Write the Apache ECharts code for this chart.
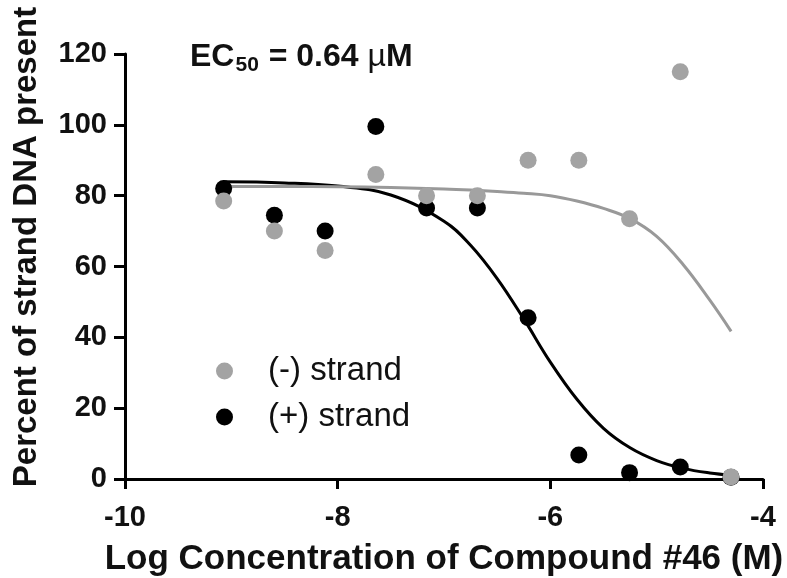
<!DOCTYPE html>
<html>
<head>
<meta charset="utf-8">
<script src="https://cdn.jsdelivr.net/npm/echarts@6/dist/echarts.min.js"></script>
<style>
  html, body { margin: 0; padding: 0; background: #fff; }
  #chart { width: 787px; height: 578px; }
</style>
</head>
<body>
<div id="chart"></div>
<script>
  // log10 of molar concentration, 3-fold dilutions from 50 uM
  var logConc = [-9.072, -8.595, -8.118, -7.641, -7.164, -6.686, -6.209, -5.732, -5.255, -4.778, -4.301]
  var minusStrand = [78.5, 70, 64.5, 86, 80, 80, 90, 90, 73.5, 115, 0.6]
  var plusStrand = [82, 74.5, 70, 99.5, 76.5, 76.5, 45.5, 6.8, 1.8, 3.4, 0.5]

  // fitted curves
  var curveX = [-9.08, -8.5, -8.0, -7.5, -7.0, -6.75, -6.5, -6.25, -6.0, -5.75, -5.5, -5.25, -5.0, -4.75, -4.5, -4.3]
  var plusFit = [83.9, 83.6, 82.7, 80.2, 72.8, 66.0, 56.6, 45.2, 33.0, 22.5, 14.3, 8.8, 5.2, 3.0, 1.7, 1.1]
  var minusFit = [82.6, 82.6, 82.5, 82.3, 81.9, 81.6, 81.2, 80.7, 80.0, 78.5, 76.4, 73.5, 68.5, 60.5, 50.5, 41.7]

  var xTicks = [-10, -8, -6, -4]
  var yTicks = [0, 20, 40, 60, 80, 100, 120]

  var FONT = '"Liberation Sans", Arial, sans-serif'
  var GRAY = '#a3a3a3'

  function pairs(xs, ys) {
    return xs.map(function (x, i) { return [x, ys[i]] })
  }

  var chart = echarts.init(document.getElementById('chart'))
  chart.setOption({
    animation: false,
    backgroundColor: '#fff',
    textStyle: { fontFamily: FONT },
    grid: {
      left: 125,
      right: 24,
      top: 54,
      bottom: 99,
      containLabel: false,
      outerBoundsMode: 'none'
    },
    legend: {
      orient: 'vertical',
      left: 211,
      top: 347,
      data: ['(-) strand', '(+) strand'],
      icon: 'circle',
      itemWidth: 17,
      itemHeight: 17,
      itemGap: 8,
      selectedMode: false,
      textStyle: {
        fontFamily: FONT,
        fontSize: 33,
        lineHeight: 38,
        color: '#111',
        padding: [0, 0, 0, 30]
      }
    },
    xAxis: {
      type: 'value',
      min: xTicks[0],
      max: xTicks[xTicks.length - 1],
      interval: 2,
      name: 'Log Concentration of Compound #46 (M)',
      nameLocation: 'middle',
      nameGap: 63,
      nameTextStyle: { fontFamily: FONT, fontSize: 35, fontWeight: 'bold', color: '#111' },
      axisLine: { show: true, onZero: false, lineStyle: { color: '#000', width: 3 } },
      axisTick: { show: true, length: 10, lineStyle: { color: '#000', width: 3 } },
      axisLabel: { margin: 24, fontSize: 29, fontWeight: 'bold', color: '#111', fontFamily: FONT },
      splitLine: { show: false }
    },
    yAxis: {
      type: 'value',
      min: yTicks[0],
      max: yTicks[yTicks.length - 1],
      interval: 20,
      axisLine: { show: true, lineStyle: { color: '#000', width: 3 } },
      axisTick: { show: true, length: 11, lineStyle: { color: '#000', width: 3 } },
      axisLabel: { margin: 18, fontSize: 29, fontWeight: 'bold', color: '#111', fontFamily: FONT },
      splitLine: { show: false }
    },
    graphic: [
      {
        type: 'text',
        x: 27,
        y: 247,
        rotation: Math.PI / 2,
        style: {
          text: 'Percent of strand DNA present',
          font: 'bold 33px ' + FONT,
          fill: '#111',
          align: 'center',
          verticalAlign: 'middle'
        }
      },
      {
        type: 'text',
        left: 190,
        top: 41,
        style: {
          text: '{a|EC}{s|50}{a| = 0.64 }{m|µ}{a|M}',
          fill: '#111',
          rich: {
            a: { font: 'bold 32px ' + FONT, fill: '#111', lineHeight: 38, verticalAlign: 'middle' },
            s: { font: 'bold 21px ' + FONT, fill: '#111', lineHeight: 38, verticalAlign: 'bottom', padding: [0, 1, 0, 1] },
            m: { font: '32px ' + FONT, fill: '#111', lineHeight: 38, verticalAlign: 'middle' }
          }
        }
      }
    ],
    series: [
      {
        name: 'plus fit',
        type: 'line',
        data: pairs(curveX, plusFit),
        smooth: 0.4,
        showSymbol: false,
        silent: true,
        z: 1,
        lineStyle: { color: '#000', width: 3 }
      },
      {
        name: 'minus fit',
        type: 'line',
        data: pairs(curveX, minusFit),
        smooth: 0.4,
        showSymbol: false,
        silent: true,
        z: 1,
        lineStyle: { color: '#999', width: 3 }
      },
      {
        name: '(+) strand',
        type: 'scatter',
        data: pairs(logConc, plusStrand),
        symbolSize: 17,
        z: 3,
        itemStyle: { color: '#000', opacity: 1 }
      },
      {
        name: '(-) strand',
        type: 'scatter',
        data: pairs(logConc, minusStrand),
        symbolSize: 17,
        z: 4,
        itemStyle: { color: GRAY, opacity: 1 }
      }
    ]
  })
</script>
</body>
</html>
